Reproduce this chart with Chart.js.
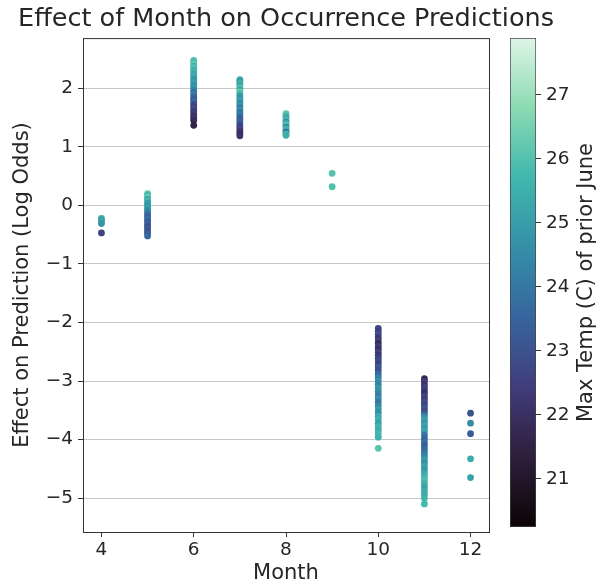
<!DOCTYPE html>
<html>
<head>
<meta charset="utf-8">
<script src="https://cdn.jsdelivr.net/npm/chart.js@4/dist/chart.umd.min.js"></script>
<style>
  html, body { margin: 0; padding: 0; background: #fff; }
  #wrap { position: relative; width: 596px; height: 588px; }
  #main { position: absolute; left: 0; top: 0; }
  #cbar { position: absolute; left: 490px; top: 0; }
</style>
</head>
<body>
<div id="wrap">
  <canvas id="main" width="572" height="588"></canvas>
  <canvas id="cbar" width="106" height="588"></canvas>
</div>
<script>
// months on the x axis, one column of points each
const months = [4, 5, 6, 7, 8, 9, 10, 11, 12];

// effect on prediction (log odds), per month
const effectByMonth = [
  [-0.22, -0.25, -0.28, -0.31, -0.47],
  [0.20, 0.17, 0.14, 0.11, 0.08, 0.04, 0.00, -0.04, -0.08, -0.12, -0.16, -0.20, -0.24, -0.28, -0.32, -0.36, -0.40, -0.44, -0.48, -0.52],
  [2.48, 2.45, 2.42, 2.38, 2.35, 2.31, 2.28, 2.24, 2.21, 2.17, 2.13, 2.09, 2.05, 2.01, 1.97, 1.93, 1.89, 1.85, 1.81, 1.77, 1.73, 1.69, 1.65, 1.61, 1.57, 1.53, 1.49, 1.45, 1.37],
  [2.15, 2.12, 2.08, 2.05, 2.01, 1.98, 1.94, 1.91, 1.87, 1.83, 1.79, 1.75, 1.71, 1.67, 1.63, 1.59, 1.55, 1.51, 1.47, 1.43, 1.39, 1.35, 1.31, 1.27, 1.23, 1.19],
  [1.57, 1.53, 1.50, 1.46, 1.43, 1.40, 1.37, 1.34, 1.31, 1.28, 1.25, 1.22, 1.20],
  [0.55, 0.32],
  [-2.10, -2.15, -2.20, -2.26, -2.31, -2.36, -2.41, -2.46, -2.51, -2.56, -2.61, -2.66, -2.71, -2.76, -2.82, -2.88, -2.94, -3.00, -3.06, -3.12, -3.18, -3.24, -3.30, -3.36, -3.42, -3.48, -3.54, -3.60, -3.66, -3.72, -3.78, -3.84, -3.90, -3.96, -4.15],
  [-2.96, -3.01, -3.06, -3.11, -3.16, -3.21, -3.26, -3.31, -3.36, -3.41, -3.46, -3.51, -3.56, -3.61, -3.66, -3.71, -3.76, -3.81, -3.86, -3.92, -3.98, -4.04, -4.10, -4.16, -4.22, -4.28, -4.34, -4.40, -4.46, -4.52, -4.58, -4.64, -4.70, -4.76, -4.82, -4.88, -4.94, -5.00, -5.10],
  [-3.55, -3.72, -3.90, -4.33, -4.65]
];

// max temp (C) of prior June, same layout as effectByMonth
const tempByMonth = [
  [25.4, 25.0, 25.3, 24.8, 22.6],
  [26.2, 25.6, 26.4, 25.2, 25.8, 25.0, 24.8, 25.1, 24.6, 24.3, 23.7, 23.4, 23.8, 23.2, 23.5, 22.9, 23.3, 23.0, 23.4, 23.6],
  [26.0, 25.8, 26.2, 25.6, 26.0, 25.4, 25.7, 25.2, 25.5, 25.0, 24.8, 25.1, 24.6, 24.9, 24.3, 23.9, 24.2, 23.5, 23.2, 23.6, 22.9, 22.6, 22.9, 22.3, 22.5, 22.0, 22.2, 21.8, 21.5],
  [25.4, 25.0, 25.6, 25.2, 26.1, 25.3, 26.3, 25.8, 25.0, 24.7, 25.1, 24.5, 24.8, 24.2, 24.6, 23.9, 24.1, 23.6, 23.3, 23.7, 23.0, 22.6, 22.8, 22.3, 22.0, 22.1],
  [26.2, 25.8, 25.3, 25.9, 24.6, 25.5, 26.0, 24.3, 25.7, 25.2, 23.8, 25.9, 25.4],
  [26.0, 26.0],
  [22.8, 22.5, 22.9, 22.3, 22.6, 21.8, 22.4, 22.0, 22.7, 22.3, 22.6, 22.9, 22.5, 23.2, 23.0, 23.6, 24.2, 24.6, 24.3, 24.8, 24.5, 24.1, 24.7, 24.0, 24.4, 25.0, 24.6, 25.3, 25.5, 25.1, 25.7, 25.4, 25.8, 25.6, 26.1],
  [21.8, 22.4, 22.1, 22.6, 22.3, 22.0, 22.7, 22.4, 22.9, 22.6, 23.1, 22.8, 23.4, 24.6, 25.0, 24.8, 25.2, 24.9, 25.1, 24.0, 23.5, 23.8, 23.3, 23.7, 23.9, 24.3, 24.9, 24.6, 25.1, 24.8, 25.3, 25.6, 25.9, 25.4, 25.2, 25.5, 25.3, 25.6, 25.8],
  [23.0, 24.6, 23.3, 25.4, 25.1]
];

const monthTicks = [4, 6, 8, 10, 12];
const effectTicks = [-5, -4, -3, -2, -1, 0, 1, 2];
const tempTicks = [21, 22, 23, 24, 25, 26, 27];
const tempMin = 20.25;
const tempMax = 27.89;

// mako colormap, sampled stops
const mako = [
  [0, [11, 4, 5]],
  [1 / 7, [46, 30, 59]],
  [2 / 7, [65, 61, 123]],
  [3 / 7, [55, 101, 158]],
  [4 / 7, [52, 143, 167]],
  [5 / 7, [64, 183, 173]],
  [6 / 7, [139, 218, 178]],
  [1, [222, 245, 229]]
];

function makoColor(temp) {
  let t = (temp - tempMin) / (tempMax - tempMin);
  t = Math.max(0, Math.min(1, t));
  for (let i = 1; i < mako.length; i++) {
    if (t <= mako[i][0]) {
      const [t0, c0] = mako[i - 1];
      const [t1, c1] = mako[i];
      const f = (t - t0) / (t1 - t0);
      const c = c0.map((v, k) => Math.round(v + (c1[k] - v) * f));
      return `rgb(${c[0]},${c[1]},${c[2]})`;
    }
  }
  return 'rgb(222,245,229)';
}

Chart.defaults.font.family = "'DejaVu Sans', sans-serif";
Chart.defaults.color = '#262626';

const points = [];
const colors = [];
months.forEach((m, i) => {
  effectByMonth[i].forEach((v, j) => {
    points.push({ x: m, y: v });
    colors.push(makoColor(tempByMonth[i][j]));
  });
});

const minus = v => String(v).replace('-', '\u2212');

// top/right spines
const frame = {
  id: 'frame',
  afterDatasetsDraw(chart) {
    const { ctx, chartArea: a } = chart;
    ctx.save();
    ctx.strokeStyle = '#333';
    ctx.lineWidth = 1;
    ctx.strokeRect(a.left + 0.5, a.top + 0.5, a.right - a.left, a.bottom - a.top);
    ctx.restore();
  }
};

new Chart(document.getElementById('main'), {
  type: 'scatter',
  data: {
    datasets: [{
      data: points,
      backgroundColor: colors,
      pointRadius: 3.4,
      pointHoverRadius: 3.4,
      pointBorderWidth: 0
    }]
  },
  options: {
    responsive: false,
    animation: false,
    plugins: {
      legend: { display: false },
      tooltip: { enabled: false },
      title: {
        display: true,
        text: 'Effect of Month on Occurrence Predictions',
        font: { size: 25.5, weight: 'normal' },
        color: '#262626',
        padding: { top: 4, bottom: 3.5 }
      }
    },
    scales: {
      x: {
        type: 'linear',
        min: 3.6,
        max: 12.4,
        afterBuildTicks: s => { s.ticks = monthTicks.map(v => ({ value: v })); },
        afterFit: s => { s.height = 56; },
        grid: { drawOnChartArea: false, tickLength: 5, tickColor: '#333' },
        border: { color: '#333' },
        ticks: { font: { size: 18.5 }, padding: 2, maxRotation: 0 },
        title: { display: true, text: 'Month', font: { size: 21 }, padding: { top: 0, bottom: 2 } }
      },
      y: {
        min: -5.58,
        max: 2.86,
        afterBuildTicks: s => { s.ticks = effectTicks.map(v => ({ value: v })); },
        afterFit: s => { s.width = 83; },
        grid: { color: '#c8c8c8', tickColor: '#333', tickLength: 5 },
        border: { color: '#333' },
        ticks: { font: { size: 18.5 }, padding: 5, callback: v => minus(v) },
        title: { display: true, text: 'Effect on Prediction (Log Odds)', font: { size: 21 }, padding: { top: 10, bottom: 4 } }
      },
      // empty axis that only keeps room for the colorbar
      spacer: {
        type: 'linear',
        position: 'right',
        grid: { display: false },
        border: { display: false },
        ticks: { display: false },
        afterFit: s => { s.width = 83; }
      }
    }
  },
  plugins: [frame]
});

// colorbar label, reads bottom to top
const cbarLabel = {
  id: 'cbarLabel',
  afterDraw(chart) {
    const { ctx, chartArea: a } = chart;
    ctx.save();
    ctx.translate(97, (a.top + a.bottom) / 2);
    ctx.rotate(-Math.PI / 2);
    ctx.font = "21px 'DejaVu Sans'";
    ctx.fillStyle = '#262626';
    ctx.textAlign = 'center';
    ctx.textBaseline = 'middle';
    ctx.fillText('Max Temp (C) of prior June', 0, 0);
    ctx.restore();
  }
};

function barGradient(context) {
  const chart = context.chart;
  const y = chart.scales.y;
  if (!chart.chartArea || !y) return makoColor((tempMin + tempMax) / 2);
  const g = chart.ctx.createLinearGradient(0, y.getPixelForValue(tempMin), 0, y.getPixelForValue(tempMax));
  mako.forEach(([t, c]) => g.addColorStop(t, `rgb(${c[0]},${c[1]},${c[2]})`));
  return g;
}

new Chart(document.getElementById('cbar'), {
  type: 'bar',
  data: {
    labels: [''],
    datasets: [{
      data: [[tempMin, tempMax]],
      backgroundColor: barGradient,
      borderColor: '#444',
      borderWidth: 1,
      borderSkipped: false,
      barPercentage: 1,
      categoryPercentage: 1
    }]
  },
  options: {
    responsive: false,
    animation: false,
    layout: { padding: { left: 20, right: 0, top: 38, bottom: 61 } },
    plugins: { legend: { display: false }, tooltip: { enabled: false } },
    scales: {
      x: { display: false },
      y: {
        position: 'right',
        min: tempMin,
        max: tempMax,
        afterBuildTicks: s => { s.ticks = tempTicks.map(v => ({ value: v })); },
        afterFit: s => { s.width = 60; },
        grid: { drawOnChartArea: false, tickLength: 5, tickColor: '#333' },
        border: { display: false },
        ticks: { font: { size: 18.5 }, padding: 5 }
      }
    }
  },
  plugins: [cbarLabel]
});
</script>
</body>
</html>
